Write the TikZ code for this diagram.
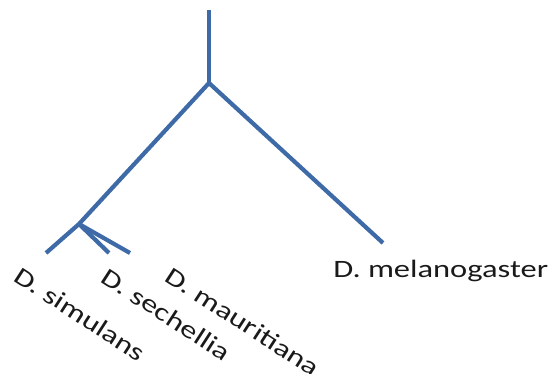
\documentclass[tikz,border=0pt]{standalone}
\usepackage{fontspec}
\setmainfont{Carlito}
\definecolor{branch}{HTML}{3E6BA8}
\definecolor{labelgray}{HTML}{1A1A1A}
\tikzset{
  edge/.style={draw=branch, line width=4.2pt, line cap=butt, line join=miter},
  taxon/.style={font=\fontsize{25}{30}\selectfont, text=labelgray, inner sep=0pt},
  tiltlabel/.style={taxon, anchor=base west, rotate=-33, xscale=1.3},
}
\begin{document}
\begin{tikzpicture}[x=1pt,y=-1pt]
\useasboundingbox (0,0) rectangle (553,374);
\coordinate (root) at (209,10);
\coordinate (top) at (209,83);
\coordinate (inner) at (79,224);
\coordinate (sim) at (46,253);
\coordinate (sec) at (109,253);
\coordinate (mau) at (130,253);
\coordinate (mel) at (383,243);
\draw[edge] (root) -- (top);
\draw[edge] (top) -- (inner) -- (sim);
\draw[edge] (top) -- (mel);
\draw[edge] (inner) -- (sec);
\draw[edge] (inner) -- (mau);
\node[taxon, anchor=base west, xscale=1.3] (lmel) at (333,277) {D. melanogaster};
\node[tiltlabel] (lsim) at (12,280) {D. simulans};
\node[tiltlabel] (lsec) at (99,281) {D. sechellia};
\node[tiltlabel] (lmau) at (163,280) {D. mauritiana};
\end{tikzpicture}
\end{document}
